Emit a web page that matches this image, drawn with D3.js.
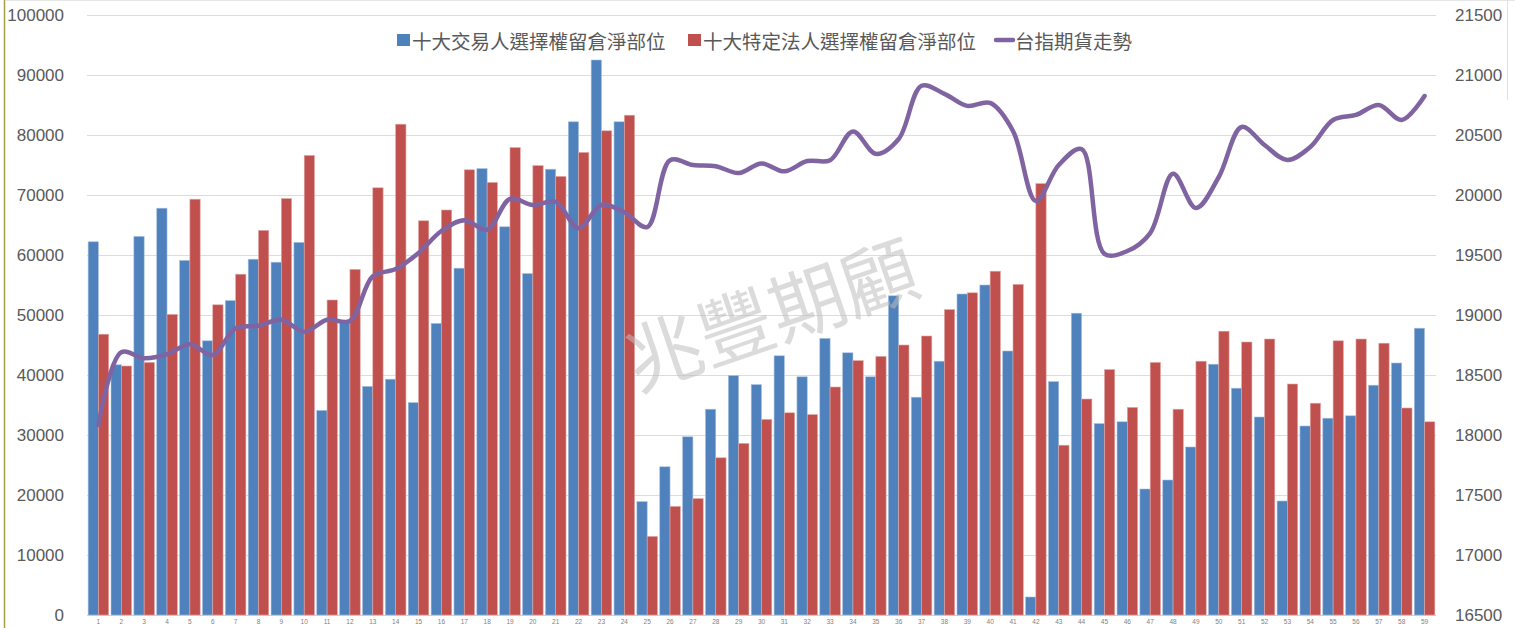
<!DOCTYPE html>
<html lang="zh-Hant">
<head>
<meta charset="UTF-8">
<title>十大交易人 / 特定法人 選擇權留倉淨部位</title>
<script src="https://cdn.jsdelivr.net/npm/d3@7"></script>
<style>
  html, body { margin: 0; padding: 0; background: #fff; }
  svg { display: block; }
</style>
</head>
<body>
<div id="chart"></div>
<script>
// categories 1..59
const categories = d3.range(1, 60).map(String);

const traderNet = [
  62200, 41700, 63100, 67800, 59100, 45700, 52400, 59300, 58800, 62100,
  34100, 48700, 38100, 39300, 35400, 48600, 57800, 74400, 64700, 56900,
  74300, 82200, 92500, 82200, 18900, 24700, 29700, 34300, 39900, 38400,
  43200, 39700, 46100, 43700, 39700, 53200, 36300, 42300, 53500, 55000,
  44000, 3000, 38900, 50300, 31900, 32200, 21000, 22500, 28000, 41800,
  37800, 33000, 19000, 31500, 32800, 33200, 38300, 42000, 47800
];
const corpNet = [
  46800, 41500, 42100, 50100, 69300, 51700, 56800, 64100, 69400, 76600,
  52500, 57600, 71200, 81800, 65700, 67500, 74200, 72100, 77900, 74900,
  73100, 77100, 80700, 83300, 13100, 18100, 19400, 26200, 28600, 32600,
  33700, 33400, 38000, 42400, 43100, 45000, 46500, 50900, 53700, 57300,
  55100, 71900, 28300, 36000, 40900, 34600, 42100, 34300, 42300, 47300,
  45500, 46000, 38500, 35300, 45700, 46000, 45300, 34500, 32200
];
const taiex = [
  18083, 18690, 18640, 18673, 18757, 18667, 18890, 18910, 18960, 18860,
  18960, 18950, 19323, 19383, 19517, 19700, 19790, 19710, 19967, 19917,
  19943, 19723, 19917, 19857, 19733, 20290, 20250, 20240, 20183, 20263,
  20197, 20283, 20290, 20530, 20343, 20467, 20910, 20843, 20743, 20767,
  20533, 19950, 20250, 20383, 19510, 19533, 19683, 20177, 19892, 20150,
  20567, 20417, 20292, 20400, 20625, 20667, 20750, 20625, 20825
];
const leftTicks = d3.range(0, 100001, 10000);
const rightTicks = d3.range(16500, 21501, 500);
const seriesNames = ['十大交易人選擇權留倉淨部位', '十大特定法人選擇權留倉淨部位', '台指期貨走勢'];
const colors = ['#4F81BD', '#C0504D', '#8064A2'];

const W = 1515, H = 628;
const plot = { left: 87, right: 1436, top: 15, bottom: 615 };

const svg = d3.select('#chart').append('svg')
  .attr('width', W).attr('height', H)
  .style('font-family', '"Liberation Sans", Arial, sans-serif');

// frame bits
svg.append('line').attr('x1', 4.5).attr('x2', 4.5).attr('y1', 0).attr('y2', H)
  .attr('stroke', '#a39e48').attr('stroke-width', 1.5);
svg.append('line').attr('x1', 5).attr('x2', W).attr('y1', 0.5).attr('y2', 0.5)
  .attr('stroke', '#e6e6e6');
svg.append('line').attr('x1', 1507.5).attr('x2', 1507.5).attr('y1', 0).attr('y2', 100)
  .attr('stroke', '#e0e0e0');

const x = d3.scaleBand().domain(categories).range([plot.left, plot.right])
  .paddingInner(0.1).paddingOuter(0.05);
const yL = d3.scaleLinear().domain([0, 100000]).range([plot.bottom, plot.top]);
const yR = d3.scaleLinear().domain([16500, 21500]).range([plot.bottom, plot.top]);

// gridlines
svg.append('g').selectAll('line').data(leftTicks).join('line')
  .attr('x1', plot.left).attr('x2', plot.right)
  .attr('y1', d => Math.round(yL(d)) + 0.5).attr('y2', d => Math.round(yL(d)) + 0.5)
  .attr('stroke', d => d === 0 ? '#d0d0d0' : '#dcdcdc').attr('stroke-width', 1);

// left axis
const axL = svg.append('g').attr('transform', `translate(${plot.left},0)`)
  .call(d3.axisLeft(yL).tickValues(leftTicks).tickFormat(d3.format('d')).tickSize(0).tickPadding(23));
axL.select('.domain').remove();
axL.selectAll('text').attr('fill', '#595959').style('font-size', '17px');

// right axis
const axR = svg.append('g').attr('transform', `translate(${plot.right},0)`)
  .call(d3.axisRight(yR).tickValues(rightTicks).tickFormat(d3.format('d')).tickSize(0).tickPadding(19));
axR.select('.domain').remove();
axR.selectAll('text').attr('fill', '#595959').style('font-size', '17px');

// bottom axis labels
const axB = svg.append('g').attr('transform', `translate(0,${plot.bottom})`)
  .call(d3.axisBottom(x).tickSize(0).tickPadding(4));
axB.select('.domain').remove();
axB.selectAll('text').attr('fill', '#7f7f7f').style('font-size', '6.5px');

// bars
const half = x.bandwidth() / 2;
const bars = svg.append('g');
bars.selectAll('rect.t').data(traderNet).join('rect').attr('class', 't')
  .attr('x', (d, i) => x(categories[i]))
  .attr('width', half)
  .attr('y', d => yL(d)).attr('height', d => yL(0) - yL(d))
  .attr('fill', colors[0]).attr('stroke', '#a7c0de').attr('stroke-width', 0.6);
bars.selectAll('rect.c').data(corpNet).join('rect').attr('class', 'c')
  .attr('x', (d, i) => x(categories[i]) + half)
  .attr('width', half)
  .attr('y', d => yL(d)).attr('height', d => yL(0) - yL(d))
  .attr('fill', colors[1]).attr('stroke', '#e0a8a6').attr('stroke-width', 0.6);

// watermark (semi-transparent, over the bars)
svg.append('text')
  .attr('transform', 'translate(774,322) rotate(-19)')
  .attr('text-anchor', 'middle').attr('dominant-baseline', 'middle')
  .style('font-family', '"Noto Sans CJK TC", sans-serif')
  .style('font-weight', 400)
  .style('font-size', '76px')
  .attr('fill', '#bdbdbd').attr('fill-opacity', 0.55)
  .text('兆豐期顧');

// line
const line = d3.line()
  .x((d, i) => x(categories[i]) + x.bandwidth() / 2)
  .y(d => yR(d))
  .curve(d3.curveCatmullRom.alpha(0.5));
svg.append('path').datum(taiex)
  .attr('d', line)
  .attr('fill', 'none').attr('stroke', colors[2]).attr('stroke-width', 4.5)
  .attr('stroke-linecap', 'round').attr('stroke-linejoin', 'round');

// legend
const legend = svg.append('g').style('font-family', '"Noto Sans CJK TC", sans-serif');
const legendItems = [
  { name: seriesNames[0], color: colors[0], x: 397, type: 'rect' },
  { name: seriesNames[1], color: colors[1], x: 688, type: 'rect' },
  { name: seriesNames[2], color: colors[2], x: 996, type: 'line' }
];
legendItems.forEach(it => {
  if (it.type === 'rect') {
    legend.append('rect').attr('x', it.x).attr('y', 34).attr('width', 13).attr('height', 12).attr('fill', it.color);
  } else {
    legend.append('line').attr('x1', it.x).attr('x2', it.x + 17).attr('y1', 40).attr('y2', 40)
      .attr('stroke', it.color).attr('stroke-width', 4.5).attr('stroke-linecap', 'round');
  }
  legend.append('text').attr('x', it.x + (it.type === 'rect' ? 15 : 19)).attr('y', 40)
    .attr('dominant-baseline', 'central')
    .attr('fill', '#595959').style('font-size', '19.5px')
    .text(it.name);
});
</script>
</body>
</html>
